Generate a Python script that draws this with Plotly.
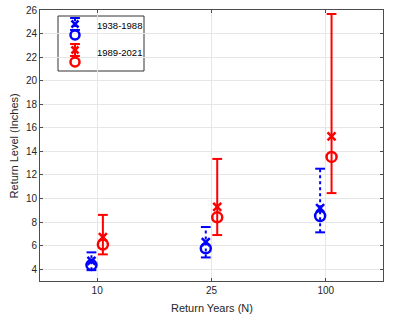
import plotly.graph_objects as go

# Return periods (categories)
return_years = ["10", "25", "100"]

# 1938-1988 (blue)
early_label = "1938-1988"
early_mle = [4.35, 5.77, 8.52]      # circles
early_est = [4.70, 6.30, 9.18]      # x markers
early_low = [3.92, 5.00, 7.13]
early_high = [5.43, 7.58, 12.53]

# 1989-2021 (red)
late_label = "1989-2021"
late_mle = [6.10, 8.40, 13.53]
late_est = [6.72, 9.30, 15.28]
late_low = [5.26, 6.90, 10.46]
late_high = [8.61, 13.36, 25.66]

BLUE = "#0000FF"
RED = "#FF0000"
FONT = "Liberation Sans, Arial, sans-serif"

fig = go.Figure()


def add_series(xpos, mle, est, low, high, color, dash, xa="x", ya="y", cap=7, circ=10, xs_=8):
    # vertical interval line
    xs, ys = [], []
    for x, lo, hi in zip(xpos, low, high):
        xs += [x, x, None]
        ys += [lo, hi, None]
    fig.add_trace(go.Scatter(x=xs, y=ys, mode="lines", xaxis=xa, yaxis=ya,
                             line=dict(color=color, width=2, dash=dash),
                             showlegend=False, hoverinfo="skip"))
    # caps
    fig.add_trace(go.Scatter(x=list(xpos) * 2, y=list(low) + list(high), mode="markers",
                             xaxis=xa, yaxis=ya,
                             marker=dict(symbol="line-ew", size=cap, color=color,
                                         line=dict(color=color, width=2)),
                             showlegend=False, hoverinfo="skip"))
    # x markers
    fig.add_trace(go.Scatter(x=xpos, y=est, mode="markers", xaxis=xa, yaxis=ya,
                             marker=dict(symbol="x-thin", size=xs_, color=color,
                                         line=dict(color=color, width=2.5)),
                             showlegend=False))
    # circles
    fig.add_trace(go.Scatter(x=xpos, y=mle, mode="markers", xaxis=xa, yaxis=ya,
                             marker=dict(symbol="circle-open", size=circ, color=color,
                                         line=dict(color=color, width=2.5)),
                             showlegend=False))


cats = list(range(1, len(return_years) + 1))
add_series([c - 0.05 for c in cats], early_mle, early_est, early_low, early_high, BLUE, "dot")
add_series([c + 0.05 for c in cats], late_mle, late_est, late_low, late_high, RED, "solid")

# --- hand-made legend in an overlay axis measured in plot pixels ---
add_series([35], [25], [14], [8], [20], BLUE, "dot", "x2", "y2", cap=7, circ=9, xs_=7)
add_series([35], [52], [40], [34], [46], RED, "solid", "x2", "y2", cap=7, circ=9, xs_=7)

fig.add_shape(type="rect", xref="x2", yref="y2", x0=18, x1=104, y0=6, y1=61,
              line=dict(color="#333333", width=1), fillcolor="white", layer="below")
for label, y in [(early_label, 15), (late_label, 42)]:
    fig.add_annotation(x=55, y=y, xref="x2", yref="y2", text=label, showarrow=False,
                       xanchor="left", font=dict(family=FONT, size=9.5, color="#000000"))

# axis titles placed by hand
fig.add_annotation(x=0.5, y=-0.1, xref="paper", yref="paper", text="Return Years (N)",
                   showarrow=False, xanchor="center", yanchor="middle",
                   font=dict(family=FONT, size=11, color="#262626"))
fig.add_annotation(x=-0.076, y=0.5, xref="paper", yref="paper", text="Return Level (Inches)",
                   showarrow=False, xanchor="center", yanchor="middle", textangle=-90,
                   font=dict(family=FONT, size=11, color="#262626"))

axis_common = dict(
    showgrid=True, gridcolor="#E6E6E6", gridwidth=1, zeroline=False,
    showline=True, linecolor="#4D4D4D", linewidth=1, mirror="ticks",
    ticks="inside", ticklen=3, tickcolor="#4D4D4D", automargin=False,
    tickfont=dict(family=FONT, size=10, color="#262626"),
)

fig.update_layout(
    width=416, height=320,
    margin=dict(l=40, r=33, t=10, b=39),
    plot_bgcolor="white", paper_bgcolor="white",
    showlegend=False,
    xaxis=dict(range=[0.5, 3.5], tickvals=cats, ticktext=return_years, **axis_common),
    yaxis=dict(range=[3, 26], dtick=2, tick0=0, **axis_common),
    xaxis2=dict(range=[0, 343], overlaying="x", visible=False, fixedrange=True),
    yaxis2=dict(range=[271, 0], overlaying="y", visible=False, fixedrange=True),
)

fig.write_html("out.html", config={"displayModeBar": False},
               post_script="document.body.style.margin='0';")
